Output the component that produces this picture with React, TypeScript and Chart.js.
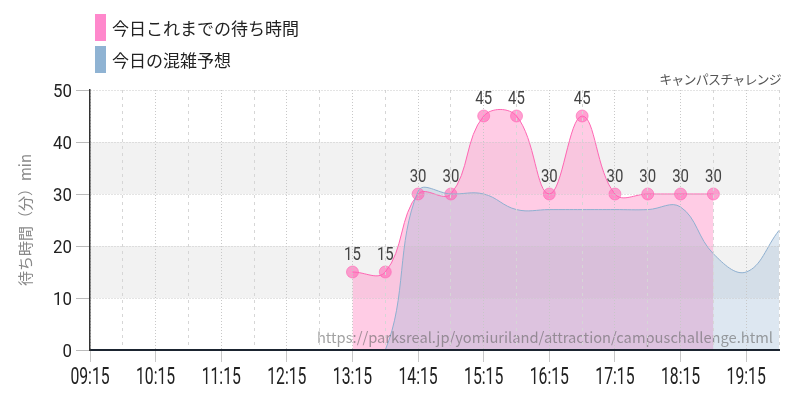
import React, { useEffect, useRef } from 'react';
import { Chart, registerables } from 'chart.js';

Chart.register(...registerables);

const timeLabels = [
  '09:15', '09:45', '10:15', '10:45', '11:15', '11:45', '12:15', '12:45',
  '13:15', '13:45', '14:15', '14:45', '15:15', '15:45', '16:15', '16:45',
  '17:15', '17:45', '18:15', '18:45', '19:15', '19:45',
];

const actualWait: (number | null)[] = [
  null, null, null, null, null, null, null, null,
  15, 15, 30, 30, 45, 45, 30, 45, 30, 30, 30, 30,
  null, null,
];

const forecastWait: number[] = [
  0, 0, 0, 0, 0, 0, 0, 0, 0, 0,
  30.5, 30, 30, 27, 27, 27, 27, 27, 27.5, 18.5, 15, 23,
];

const yTicks = [0, 10, 20, 30, 40, 50];
const bandRanges: [number, number][] = [[10, 20], [30, 40]];

const seriesNames = ['今日これまでの待ち時間', '今日の混雑予想'];
const titleText = 'キャンパスチャレンジ';
const yTitle = '待ち時間（分）min';
const watermark = 'https://parksreal.jp/yomiuriland/attraction/campuschallenge.html';

const NUM = 'Roboto, "Noto Sans", sans-serif';
const JP = '"Noto Sans CJK JP", "Noto Sans", sans-serif';

// draw horizontally condensed text (Roboto Condensed look-alike)
function condensedText(ctx: any, text: string, x: number, y: number, size: number, sx: number, align: 'left' | 'center' | 'right') {
  ctx.save();
  ctx.font = `${size}px ${NUM}`;
  ctx.textAlign = align;
  ctx.textBaseline = 'alphabetic';
  ctx.translate(x, y);
  ctx.scale(sx, 1);
  ctx.fillText(text, 0, 0);
  ctx.restore();
}

const bandsPlugin = {
  id: 'bands',
  beforeDraw(chart: any) {
    const { ctx, chartArea, scales } = chart;
    const y = scales.y;
    ctx.save();
    ctx.fillStyle = '#f2f2f2';
    bandRanges.forEach(([a, b]) => {
      const top = y.getPixelForValue(b);
      const bot = y.getPixelForValue(a);
      ctx.fillRect(chartArea.left, top, chartArea.right - chartArea.left, bot - top);
    });
    ctx.restore();
  },
};

const labelsPlugin = {
  id: 'valueLabels',
  afterDatasetsDraw(chart: any) {
    const { ctx, chartArea } = chart;
    ctx.save();
    ctx.font = `14.7px ${JP}`;
    ctx.fillStyle = 'rgba(100,100,100,0.6)';
    ctx.textAlign = 'right';
    ctx.textBaseline = 'alphabetic';
    ctx.fillText(watermark, chartArea.right - 6, chartArea.bottom - 7);
    ctx.restore();

    const meta = chart.getDatasetMeta(0);
    ctx.save();
    ctx.fillStyle = '#444';
    meta.data.forEach((pt: any, i: number) => {
      const v = actualWait[i];
      if (v === null || v === undefined) return;
      condensedText(ctx, String(v), pt.x, pt.y - 12, 18.7, 0.8, 'center');
    });
    ctx.restore();
  },
  afterDraw(chart: any) {
    const { ctx, scales } = chart;
    const x = scales.x;
    const y = scales.y;
    ctx.save();
    ctx.fillStyle = '#222';
    timeLabels.forEach((lab, i) => {
      if (i % 2 !== 0) return;
      condensedText(ctx, lab, x.getPixelForTick(i), y.bottom + 34, 23.5, 0.67, 'center');
    });
    yTicks.forEach((v) => {
      condensedText(ctx, String(v), x.left - 18, y.getPixelForValue(v) + 6.7, 18.7, 0.9, 'right');
    });
    ctx.restore();
  },
};

export default function App() {
  const canvasRef = useRef<HTMLCanvasElement>(null);

  useEffect(() => {
    document.body.style.margin = '0';
    const canvas = canvasRef.current!;
    const chart = new Chart(canvas, {
      type: 'line',
      data: {
        labels: timeLabels,
        datasets: [
          {
            label: seriesNames[0],
            data: actualWait,
            order: 1,
            borderColor: '#ff66b3',
            borderWidth: 1,
            backgroundColor: 'rgba(255,153,204,0.5)',
            fill: 'origin',
            tension: 0.4,
            pointRadius: 6,
            pointHoverRadius: 6,
            pointBackgroundColor: 'rgba(255,100,180,0.6)',
            pointBorderColor: 'rgba(255,100,180,0.6)',
            pointBorderWidth: 1,
            spanGaps: false,
          },
          {
            label: seriesNames[1],
            data: forecastWait,
            order: 0,
            borderColor: '#8fb0d0',
            borderWidth: 1,
            backgroundColor: 'rgba(143,176,209,0.3)',
            fill: 'origin',
            tension: 0.4,
            pointRadius: 0,
          },
        ],
      },
      options: {
        responsive: false,
        animation: false,
        layout: { padding: { top: 90, right: 21, left: 0, bottom: 0 } },
        plugins: {
          legend: { display: false },
          title: { display: false },
          tooltip: { enabled: false },
          filler: { drawTime: 'beforeDatasetsDraw' },
        },
        scales: {
          x: {
            type: 'category',
            offset: false,
            afterFit: (scale: any) => { scale.height = 50; },
            grid: {
              z: 1,
              color: (ctx: any) => (ctx.index % 2 === 0 ? '#c8c8c8' : '#d6d6d6'),
              tickColor: (ctx: any) => (ctx.index % 2 === 0 ? '#c8c8c8' : 'rgba(0,0,0,0)'),
              lineWidth: 1,
              tickLength: 12,
            },
            border: {
              display: true,
              z: 2,
              color: '#1b2430',
              width: 2,
              dash: (ctx: any) => (ctx.index % 2 === 0 ? [1, 2] : [3, 4]),
            },
            ticks: {
              display: false,
              autoSkip: false,
              maxRotation: 0,
            },
          },
          y: {
            min: 0,
            max: 50,
            afterFit: (scale: any) => { scale.width = 90; },
            afterBuildTicks: (scale: any) => {
              scale.ticks = yTicks.map((v) => ({ value: v }));
            },
            grid: {
              z: 1,
              color: '#c8c8c8',
              tickColor: '#bbb',
              tickLength: 14,
            },
            border: { display: true, z: 2, color: '#333', width: 1.5, dash: [1, 2] },
            ticks: {
              display: false,
            },
            title: {
              display: true,
              text: yTitle,
              color: '#888',
              font: { family: JP, size: 15 },
              padding: { top: 16, bottom: 0 },
            },
          },
        },
      },
      plugins: [bandsPlugin, labelsPlugin],
    });
    return () => chart.destroy();
  }, []);

  const legendItems = [
    { text: seriesNames[0], color: '#ff88cc', top: 14 },
    { text: seriesNames[1], color: '#8fb3d3', top: 46 },
  ];

  return (
    <div style={{ position: 'relative', width: 800, height: 400 }}>
      <canvas ref={canvasRef} width={800} height={400} style={{ display: 'block' }} />
      {legendItems.map((it) => (
        <div
          key={it.text}
          style={{ position: 'absolute', left: 95, top: it.top, display: 'flex', alignItems: 'center', height: 27 }}
        >
          <span style={{ display: 'inline-block', width: 11, height: 27, background: it.color, marginRight: 6 }} />
          <span style={{ font: `17px ${JP}`, color: '#222', whiteSpace: 'nowrap' }}>{it.text}</span>
        </div>
      ))}
      <div
        style={{ position: 'absolute', right: 19, top: 69, font: `13px ${JP}`, letterSpacing: '-0.8px', color: '#555', whiteSpace: 'nowrap' }}
      >
        {titleText}
      </div>
    </div>
  );
}
